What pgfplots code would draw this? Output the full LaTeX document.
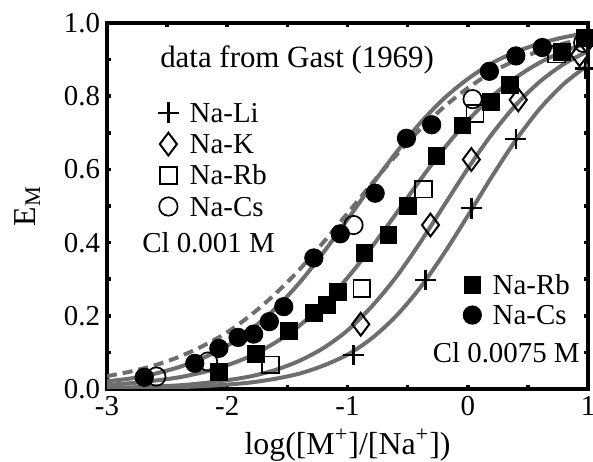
\documentclass[border=0pt]{standalone}
\usepackage{fontspec}
\setmainfont{Liberation Serif}
\usepackage{pgfplots}
\pgfplotsset{compat=1.18}
\definecolor{curve}{RGB}{110,110,110}

\pgfplotsset{
  fitline/.style={curve, line width=2bp, smooth, no marks, forget plot},
  basegeom/.style={scale only axis, width=240.5bp, height=183bp,
    xmin=-3, xmax=1, ymin=0, ymax=1},
}

\begin{document}
\begin{tikzpicture}
\begin{axis}[
  basegeom,
  axis line style={line width=2bp},
  xtick={-3,-2,-1,0,1}, minor xtick={-2.5,-1.5,-0.5,0.5},
  ytick={0,0.2,0.4,0.6,0.8,1}, minor ytick={0.1,0.3,0.5,0.7,0.9},
  tick align=inside, major tick length=2.2bp, minor tick length=2.2bp,
  every tick/.style={black, line width=1.8bp},
  /pgf/number format/assume math mode=true,
  yticklabel style={/pgf/number format/.cd, fixed, precision=1, fixed zerofill},
  tick label style={font=\fontsize{14.5}{14.5}\selectfont},
  xlabel={log([M\textsuperscript{+}]/[Na\textsuperscript{+}])},
  ylabel={E\textsubscript{M}},
  every axis x label/.style={at={(axis description cs:0.5,-0.153)}, anchor=center, font=\fontsize{16}{16}\selectfont},
  every axis y label/.style={at={(axis description cs:-0.166,0.5)}, anchor=center, rotate=90, font=\fontsize{16}{16}\selectfont},
  legend cell align=left,
  legend image code/.code={\draw[mark repeat=2,mark phase=2,#1] plot coordinates {(-6bp,0bp)(0bp,0bp)(6bp,0bp)}; \path (-6bp,0bp) (6bp,0bp);},
  legend style={draw=none, fill=none, inner sep=0pt, outer sep=0pt, column sep=4bp, row sep=0pt,
    at={(axis cs:-2.60,0.797)}, anchor=north west,
    font=\fontsize{14.5}{14.5}\selectfont,
    nodes={inner sep=0pt, text height=12.6bp, text depth=3bp}},
]
% fitted curves (gray)
\addplot[fitline, dash pattern=on 5bp off 3bp] coordinates {
(-3,0.035)(-2.8,0.048)(-2.6,0.065)(-2.4,0.088)(-2.2,0.118)(-2,0.155)(-1.8,0.203)
(-1.6,0.260)(-1.4,0.326)(-1.2,0.401)(-1,0.480)(-0.8,0.560)(-0.6,0.637)(-0.4,0.708)
(-0.2,0.770)(0,0.822)(0.2,0.865)(0.4,0.898)(0.6,0.924)(0.8,0.944)(1,0.959)};
\addplot[fitline] coordinates {
(-3,0.021)(-2.8,0.029)(-2.6,0.042)(-2.4,0.060)(-2.2,0.085)(-2,0.118)(-1.8,0.163)
(-1.6,0.220)(-1.4,0.290)(-1.2,0.373)(-1,0.463)(-0.8,0.556)(-0.6,0.644)(-0.4,0.725)
(-0.2,0.793)(0,0.847)(0.2,0.890)(0.4,0.921)(0.6,0.944)(0.8,0.961)(1,0.973)};
\addplot[fitline] coordinates {
(-3,0.011)(-2.8,0.016)(-2.6,0.023)(-2.4,0.032)(-2.2,0.046)(-2,0.065)(-1.8,0.091)
(-1.6,0.127)(-1.4,0.173)(-1.2,0.232)(-1,0.304)(-0.8,0.387)(-0.6,0.477)(-0.4,0.569)
(-0.2,0.656)(0,0.733)(0.2,0.799)(0.4,0.851)(0.6,0.892)(0.8,0.923)(1,0.945)};
\addplot[fitline] coordinates {
(-3,0.003)(-2.8,0.0045)(-2.6,0.007)(-2.4,0.010)(-2.2,0.016)(-2,0.024)(-1.8,0.035)
(-1.6,0.052)(-1.4,0.077)(-1.2,0.112)(-1,0.160)(-0.8,0.225)(-0.6,0.304)(-0.4,0.398)
(-0.2,0.5)(0,0.602)(0.2,0.696)(0.4,0.776)(0.6,0.840)(0.8,0.888)(1,0.923)};
\addplot[fitline] coordinates {
(-3,0.0014)(-2.8,0.0022)(-2.6,0.0033)(-2.4,0.0051)(-2.2,0.0078)(-2,0.012)(-1.8,0.018)
(-1.6,0.028)(-1.4,0.042)(-1.2,0.064)(-1,0.094)(-0.8,0.138)(-0.6,0.198)(-0.4,0.275)
(-0.2,0.369)(0,0.473)(0.2,0.580)(0.4,0.680)(0.6,0.766)(0.8,0.834)(1,0.885)};
% Cl 0.001 M data
\addplot[black, only marks, mark=+, mark size=5.2bp, line width=1.3bp] coordinates {
(-0.95,0.093)(-0.35,0.298)(0.03,0.494)(0.40,0.683)(0.975,0.876)};
\addlegendentry{Na-Li}
\addplot[black, only marks, mark=diamond, mark size=5.7bp, line width=1bp] coordinates {
(-0.89,0.177)(-0.31,0.448)(0.03,0.627)(0.42,0.79)(0.93,0.913)};
\addlegendentry{Na-K}
\addplot[black, only marks, mark=square, mark size=4.2bp, line width=0.85bp] coordinates {
(-1.64,0.066)(-0.88,0.275)(-0.37,0.546)(0.06,0.753)(0.74,0.915)};
\addlegendentry{Na-Rb}
\addplot[black, only marks, mark=o, mark size=4.6bp, line width=0.85bp] coordinates {
(-2.59,0.034)(-2.16,0.075)(-0.95,0.448)(0.04,0.792)(0.96,0.946)};
\addlegendentry{Na-Cs}
\node[anchor=west, inner sep=0pt, font=\fontsize{15.5}{15.5}\selectfont] at (axis cs:-2.56,0.899) {data from Gast (1969)};
\node[anchor=west, inner sep=0pt, font=\fontsize{14.5}{14.5}\selectfont] at (axis cs:-2.71,0.399) {Cl 0.001 M};
\node[anchor=east, inner sep=0pt, font=\fontsize{14.5}{14.5}\selectfont] at (axis cs:0.934,0.098) {Cl 0.0075 M};
\coordinate (ll) at (rel axis cs:0,0);
\coordinate (ur) at (rel axis cs:1,1);
\end{axis}
% Cl 0.0075 M data, with its own legend
\begin{axis}[
  basegeom, hide axis,
  legend cell align=left,
  legend image code/.code={\draw[mark repeat=2,mark phase=2,#1] plot coordinates {(-6bp,0bp)(0bp,0bp)(6bp,0bp)}; \path (-6bp,0bp) (6bp,0bp);},
  legend style={draw=none, fill=none, inner sep=0pt, outer sep=0pt, column sep=4bp, row sep=0pt,
    at={(axis cs:-0.065,0.325)}, anchor=north west,
    font=\fontsize{14.5}{14.5}\selectfont,
    nodes={inner sep=0pt, text height=12.3bp, text depth=2.7bp}},
]
\addplot[black, only marks, mark=square*, mark size=4.2bp] coordinates {
(-2.07,0.046)(-1.76,0.096)(-1.49,0.158)(-1.28,0.207)(-1.17,0.23)(-1.08,0.266)
(-0.86,0.372)(-0.66,0.42)(-0.50,0.50)(-0.26,0.637)(-0.045,0.72)(0.19,0.785)
(0.35,0.83)(0.78,0.92)(0.975,0.96)};
\addlegendentry{Na-Rb}
\addplot[black, only marks, mark=*, mark size=4.6bp] coordinates {
(-2.69,0.032)(-2.27,0.070)(-2.07,0.111)(-1.91,0.141)(-1.78,0.150)(-1.65,0.184)
(-1.53,0.225)(-1.28,0.358)(-1.06,0.424)(-0.77,0.535)(-0.51,0.685)(-0.30,0.722)
(0.18,0.868)(0.40,0.91)(0.62,0.933)};
\addlegendentry{Na-Cs}
\end{axis}
\pgfresetboundingbox
\useasboundingbox ([xshift=-53.5bp,yshift=-36.5bp]ll) rectangle ([xshift=2.5bp,yshift=11.5bp]ur);
\end{tikzpicture}
\end{document}
